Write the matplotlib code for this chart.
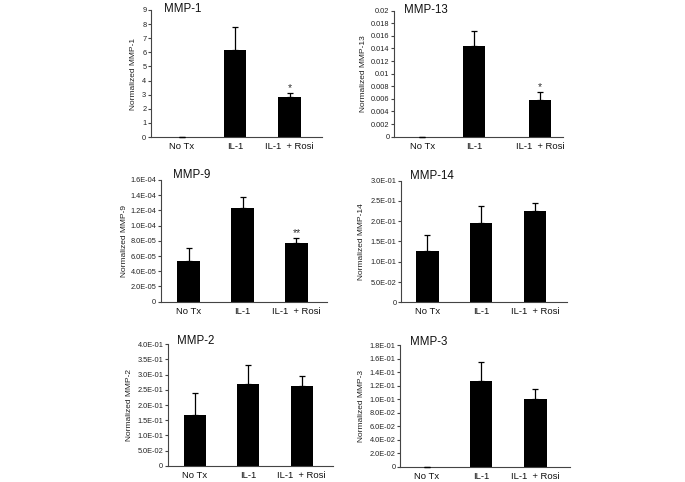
import matplotlib
matplotlib.use("Agg")
import matplotlib.pyplot as plt

plt.rcParams["font.family"] = ["Liberation Sans", "DejaVu Sans"]

groups = ["No Tx", "IL-1", "IL-1  + Rosi"]

mmp1_vals = [0.0, 6.17, 2.86]
mmp1_err = [0.0, 1.6, 0.24]
mmp1_ticks = ["0", "1", "2", "3", "4", "5", "6", "7", "8", "9"]
mmp1_tickvals = [0, 1, 2, 3, 4, 5, 6, 7, 8, 9]

mmp13_vals = [0.0, 0.0144, 0.0059]
mmp13_err = [0.0, 0.0023, 0.0012]
mmp13_ticks = ["0", "0.002", "0.004", "0.006", "0.008", "0.01",
               "0.012", "0.014", "0.016", "0.018", "0.02"]
mmp13_tickvals = [0, 0.002, 0.004, 0.006, 0.008, 0.01,
                  0.012, 0.014, 0.016, 0.018, 0.02]

mmp9_vals = [5.35e-5, 1.23e-4, 7.72e-5]
mmp9_err = [1.65e-5, 1.5e-5, 6.1e-6]
mmp9_ticks = ["0", "2.0E-05", "4.0E-05", "6.0E-05", "8.0E-05",
              "1.0E-04", "1.2E-04", "1.4E-04", "1.6E-04"]
mmp9_tickvals = [0, 2e-5, 4e-5, 6e-5, 8e-5, 1e-4, 1.2e-4, 1.4e-4, 1.6e-4]

mmp14_vals = [0.127, 0.195, 0.225]
mmp14_err = [0.039, 0.043, 0.019]
mmp14_ticks = ["0", "5.0E-02", "1.0E-01", "1.5E-01", "2.0E-01",
               "2.5E-01", "3.0E-01"]
mmp14_tickvals = [0, 0.05, 0.1, 0.15, 0.2, 0.25, 0.3]

mmp2_vals = [0.167, 0.268, 0.261]
mmp2_err = [0.072, 0.064, 0.035]
mmp2_ticks = ["0", "5.0E-02", "1.0E-01", "1.5E-01", "2.0E-01",
              "2.5E-01", "3.0E-01", "3.5E-01", "4.0E-01"]
mmp2_tickvals = [0, 0.05, 0.1, 0.15, 0.2, 0.25, 0.3, 0.35, 0.4]

mmp3_vals = [0.0, 0.1268, 0.0997]
mmp3_err = [0.0, 0.0276, 0.0152]
mmp3_ticks = ["0", "2.0E-02", "4.0E-02", "6.0E-02", "8.0E-02", "1.0E-01",
              "1.2E-01", "1.4E-01", "1.6E-01", "1.8E-01"]
mmp3_tickvals = [0, 0.02, 0.04, 0.06, 0.08, 0.1, 0.12, 0.14, 0.16, 0.18]

W, H = 685, 482

# name, values, errors, ticks, tick labels, stars,
# pixel box (left, right, top, bottom), x positions, xlim, ylabel offset px, title pos
panels = [
    ("MMP-1", mmp1_vals, mmp1_err, mmp1_tickvals, mmp1_ticks, ["", "", "*"],
     (150.7, 322, 10, 137), [0, 0.98, 1.99], (-0.58, 2.59), 14, (0.078, 0.985)),
    ("MMP-13", mmp13_vals, mmp13_err, mmp13_tickvals, mmp13_ticks, ["", "", "*"],
     (394, 563, 10.7, 136.7), [0, 0.96, 2.19], (-0.52, 2.61), 27, (0.06, 0.985)),
    ("MMP-9", mmp9_vals, mmp9_err, mmp9_tickvals, mmp9_ticks, ["", "", "**"],
     (160.7, 327, 180, 301.7), [0, 1.0, 2.0], (-0.515, 2.565), 33, (0.072, 1.014)),
    ("MMP-14", mmp14_vals, mmp14_err, mmp14_tickvals, mmp14_ticks, ["", "", ""],
     (401, 567, 180.7, 302.3), [0, 0.995, 1.995], (-0.49, 2.58), 36, (0.054, 1.016)),
    ("MMP-2", mmp2_vals, mmp2_err, mmp2_tickvals, mmp2_ticks, ["", "", ""],
     (167.7, 333, 344.3, 465.7), [0, 0.99, 1.98], (-0.50, 2.56), 35, (0.058, 1.0)),
    ("MMP-3", mmp3_vals, mmp3_err, mmp3_tickvals, mmp3_ticks, ["", "", ""],
     (400, 570, 345, 466.7), [0, 1.0, 2.01], (-0.5, 2.65), 35, (0.059, 1.0)),
]

fig = plt.figure(figsize=(W / 100, H / 100), dpi=100)

for name, vals, err, tvals, tlabels, stars, box, xpos, xlim, ylab_off, tpos in panels:
    l, r, t, b = box
    ax = fig.add_axes([l / W, 1 - b / H, (r - l) / W, (b - t) / H])
    ax.bar(xpos, vals, width=0.41, color="black", zorder=2)
    ax.errorbar(xpos, vals, yerr=[[0] * 3, err], fmt="none", ecolor="black",
                elinewidth=0.9, capsize=2.5, capthick=0.9, zorder=3, clip_on=False)
    for x, v, e, s in zip(xpos, vals, err, stars):
        if s:
            ax.annotate(s, (x, v + e), xytext=(0, 0), textcoords="offset points",
                        ha="center", va="bottom", fontsize=7.5, color="#333333")
    ax.set_xlim(*xlim)
    ax.set_ylim(0, tvals[-1])
    ax.set_yticks(tvals)
    ax.set_yticklabels(tlabels)
    ax.set_xticks(xpos)
    ax.set_xticklabels(groups)
    for sp in ["top", "right"]:
        ax.spines[sp].set_visible(False)
    for sp in ["left", "bottom"]:
        ax.spines[sp].set_linewidth(0.8)
        ax.spines[sp].set_color("#444444")
    ax.tick_params(axis="y", length=2.2, width=0.8, pad=1, labelsize=5.3,
                   colors="#444444", labelcolor="#222222")
    ax.tick_params(axis="x", length=0, pad=3.5, labelsize=6.8, labelcolor="#111111")
    ax.set_ylabel("Normalized " + name, fontsize=6, color="#222222")
    ax.yaxis.set_label_coords(-ylab_off / (r - l), 0.5)
    ax.text(tpos[0], tpos[1], name, transform=ax.transAxes, fontsize=8.3,
            ha="left", va="baseline", color="#111111")

fig.savefig("out.png", dpi=100, facecolor="white")
